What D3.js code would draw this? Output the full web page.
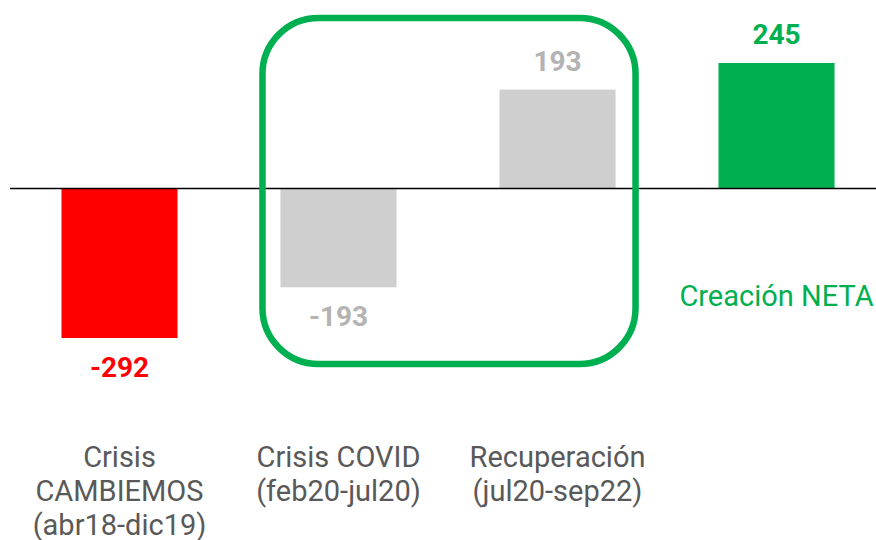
<!DOCTYPE html>
<html>
<head>
<meta charset="utf-8">
<script src="https://cdn.jsdelivr.net/npm/d3@7"></script>
<style>
  body { margin: 0; background: #fff; }
  svg { display: block; font-family: Roboto, "Noto Sans", sans-serif; }
</style>
</head>
<body>
<script>
// chart data
var categories = ["cambiemos", "covid", "recuperacion", "neta"];
var values = [-292, -193, 193, 245];
var barColors = ["#ff0000", "#d0cfcf", "#d0cfcf", "#00b050"];
var labelColors = ["#ff0000", "#b3b3b3", "#b3b3b3", "#00b050"];
var catLabels = [
  ["Crisis", "CAMBIEMOS", "(abr18-dic19)"],
  ["Crisis COVID", "(feb20-jul20)"],
  ["Recuperación", "(jul20-sep22)"],
  []
];

var w = 876, h = 540;

var svg = d3.select("body").append("svg")
  .attr("width", w)
  .attr("height", h);

// scales
var x = d3.scaleBand()
  .domain(categories)
  .range([10, 886])
  .paddingInner(0.47)
  .paddingOuter(0.235);

var y = d3.scaleLinear()
  .domain([-292, 245])
  .range([338, 63]);

// bars
svg.selectAll("rect.bar")
  .data(values)
  .enter()
  .append("rect")
  .attr("class", "bar")
  .attr("x", function(d, i) { return x(categories[i]); })
  .attr("width", x.bandwidth())
  .attr("y", function(d) { return y(Math.max(0, d)); })
  .attr("height", function(d) { return Math.abs(y(d) - y(0)); })
  .attr("fill", function(d, i) { return barColors[i]; });

// zero line
svg.append("line")
  .attr("x1", 10).attr("x2", w)
  .attr("y1", y(0)).attr("y2", y(0))
  .attr("stroke", "#000")
  .attr("stroke-width", 1.5);

// value labels
svg.selectAll("text.val")
  .data(values)
  .enter()
  .append("text")
  .attr("class", "val")
  .attr("x", function(d, i) { return x(categories[i]) + x.bandwidth() / 2; })
  .attr("y", function(d) { return d >= 0 ? y(d) - 19 : y(d) + 39; })
  .attr("text-anchor", "middle")
  .attr("font-size", 28)
  .attr("font-weight", "bold")
  .attr("fill", function(d, i) { return labelColors[i]; })
  .text(function(d) { return d; });

// highlight box round covid + recovery
var bx0 = x("covid") - 18, bx1 = x("recuperacion") + x.bandwidth() + 20;
svg.append("rect")
  .attr("x", bx0)
  .attr("y", 18)
  .attr("width", bx1 - bx0)
  .attr("height", 346)
  .attr("rx", 56)
  .attr("fill", "none")
  .attr("stroke", "#00b050")
  .attr("stroke-width", 6.5);

// category labels
catLabels.forEach(function(lines, i) {
  var t = svg.append("text")
    .attr("text-anchor", "middle")
    .attr("font-size", 29)
    .attr("fill", "#595959");
  lines.forEach(function(s, j) {
    t.append("tspan")
      .attr("x", x(categories[i]) + x.bandwidth() / 2)
      .attr("y", 467 + j * 34)
      .text(s);
  });
});

svg.append("text")
  .attr("x", x("neta") + x.bandwidth() / 2)
  .attr("y", 306)
  .attr("text-anchor", "middle")
  .attr("font-size", 29)
  .attr("fill", "#00b050")
  .text("Creación NETA");
</script>
</body>
</html>
